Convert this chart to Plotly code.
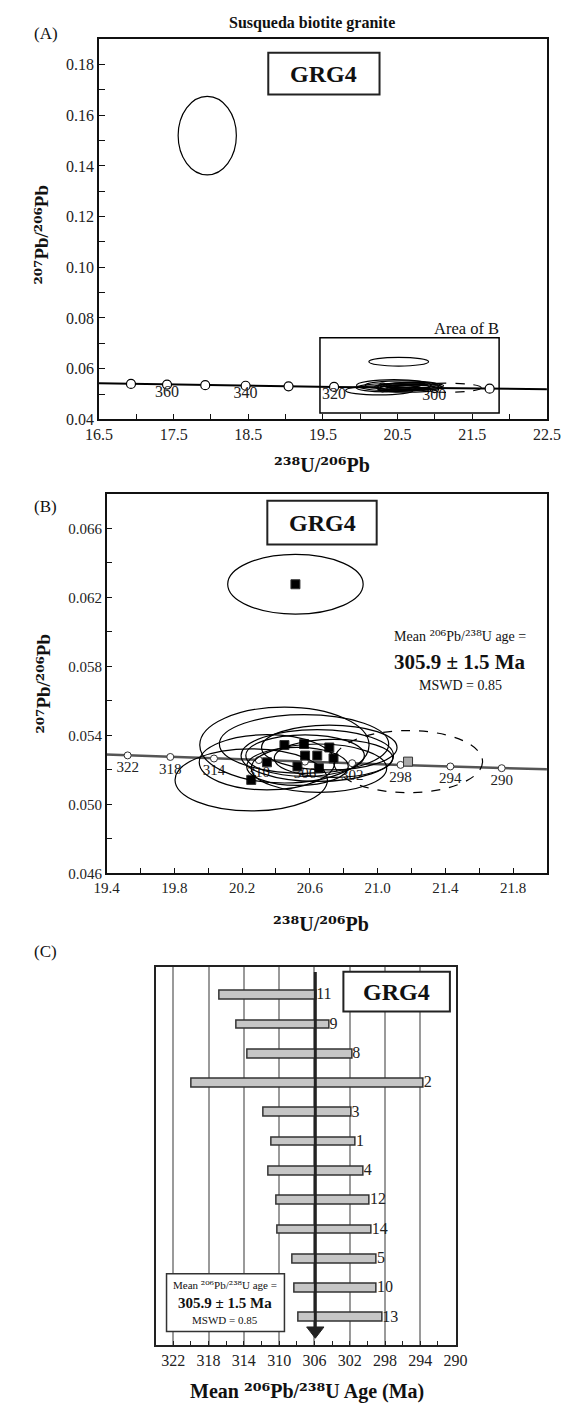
import plotly.graph_objects as go

W, H = 570, 1403
FONT = "Liberation Serif, Times New Roman, serif"

# ---------------- DATA ----------------
# Concordia reference marks, panel A (every 10 Ma)
conc_a_age = [380, 370, 360, 350, 340, 330, 320, 310, 300, 290, 280]
conc_a_u238 = [16.469, 16.928, 17.411, 17.923, 18.464, 19.039, 19.649, 20.299, 20.992, 21.733, 22.527]
conc_a_pb207 = [0.05421, 0.05397, 0.05374, 0.05350, 0.05326, 0.05303, 0.05280, 0.05257, 0.05233, 0.05210, 0.05188]
conc_a_labelled = [360, 340, 320, 300]

# Concordia reference marks, panel B (every 4 Ma)
conc_b_age = [326, 322, 318, 314, 310, 306, 302, 298, 294, 290, 286]
conc_b_u238 = [19.278, 19.524, 19.776, 20.034, 20.299, 20.571, 20.850, 21.136, 21.430, 21.733, 22.044]
conc_b_pb207 = [0.05293, 0.05284, 0.05275, 0.05266, 0.05257, 0.05248, 0.05239, 0.05229, 0.05220, 0.05210, 0.05202]

# Zircon spots: centres and ellipse half-axes
spot_u238 = [17.95, 20.515, 21.18, 20.45, 20.566, 20.715, 20.572, 20.644, 20.74, 20.347, 20.527, 20.654, 20.254]
spot_pb207 = [0.152, 0.06276, 0.05248, 0.05344, 0.0535, 0.0533, 0.05283, 0.05283, 0.05267, 0.05244, 0.0522, 0.0521, 0.05142]
spot_err_u = [0.39, 0.40, 0.44, 0.50, 0.50, 0.40, 0.35, 0.45, 0.35, 0.40, 0.30, 0.40, 0.45]
spot_err_pb = [0.0155, 0.00173, 0.0018, 0.0022, 0.0017, 0.0013, 0.0012, 0.0015, 0.0011, 0.0016, 0.0011, 0.0014, 0.0018]
spot_status = ["common", "used", "excluded", "used", "used", "used", "used", "used", "used", "used", "used", "used", "used"]

# Panel C: 206Pb/238U ages (error bar ends, Ma)
c_spot = ["11", "9", "8", "2", "3", "1", "4", "12", "14", "5", "10", "13"]
c_age_max = [316.7, 314.8, 313.6, 319.9, 311.8, 310.9, 311.2, 310.3, 310.2, 308.5, 308.3, 307.8]
c_age_min = [305.8, 304.3, 301.7, 293.6, 301.8, 301.3, 300.4, 299.7, 299.5, 298.9, 298.9, 298.3]
mean_age = 305.9

# ---------------- FIGURE ----------------
fig = go.Figure()

def px(x):
    return x / W

def py(y):
    return 1 - y / H

def sup(n):
    return '<span style="font-family:DejaVu Serif">' + n + '</span>'

PB76 = sup("²⁰⁷") + "Pb/" + sup("²⁰⁶") + "Pb"
U86 = sup("²³⁸") + "U/" + sup("²⁰⁶") + "Pb"
PB68 = sup("²⁰⁶") + "Pb/" + sup("²³⁸") + "U"

# Panel A concordia
fig.add_trace(go.Scatter(x=conc_a_u238, y=conc_a_pb207, mode="lines",
                         line=dict(color="black", width=2), xaxis="x", yaxis="y",
                         hoverinfo="skip", showlegend=False))
fig.add_trace(go.Scatter(x=conc_a_u238[1:-1], y=conc_a_pb207[1:-1], mode="markers",
                         marker=dict(symbol="circle", size=9, color="white",
                                     line=dict(color="black", width=1.2)),
                         xaxis="x", yaxis="y", hoverinfo="skip", showlegend=False))
lab_idx = [conc_a_age.index(a) for a in conc_a_labelled]
fig.add_trace(go.Scatter(x=[conc_a_u238[i] for i in lab_idx],
                         y=[conc_a_pb207[i] for i in lab_idx], mode="text",
                         text=[str(a) for a in conc_a_labelled], textposition="bottom center",
                         textfont=dict(family=FONT, size=16, color="#222"),
                         xaxis="x", yaxis="y", hoverinfo="skip", showlegend=False))

# Panel B concordia
fig.add_trace(go.Scatter(x=conc_b_u238, y=conc_b_pb207, mode="lines",
                         line=dict(color="#555", width=2.5), xaxis="x2", yaxis="y2",
                         hoverinfo="skip", showlegend=False))
fig.add_trace(go.Scatter(x=conc_b_u238[1:-1], y=conc_b_pb207[1:-1], mode="markers+text",
                         text=[str(a) for a in conc_b_age[1:-1]], textposition="bottom center",
                         textfont=dict(family=FONT, size=15, color="#222"),
                         marker=dict(symbol="circle", size=7, color="white",
                                     line=dict(color="#333", width=1)),
                         xaxis="x2", yaxis="y2", hoverinfo="skip", showlegend=False))

# Panel B spot centres
bx = [u for u, s in zip(spot_u238, spot_status) if s != "common"]
by = [p for p, s in zip(spot_pb207, spot_status) if s != "common"]
bc = ["#aaaaaa" if s == "excluded" else "black" for s in spot_status if s != "common"]
fig.add_trace(go.Scatter(x=bx, y=by, mode="markers",
                         marker=dict(symbol="square", size=9, color=bc,
                                     line=dict(color="#333", width=1)),
                         xaxis="x2", yaxis="y2", hoverinfo="skip", showlegend=False))

# Panel C bars
c_pos = list(range(len(c_spot)))
fig.add_trace(go.Bar(orientation="h", y=c_pos,
                     x=[a - b for a, b in zip(c_age_max, c_age_min)], base=c_age_min,
                     width=0.3, marker=dict(color="#c6c6c6", line=dict(color="#333", width=1.5)),
                     xaxis="x3", yaxis="y3", hoverinfo="skip", showlegend=False))
fig.add_trace(go.Scatter(x=c_age_min, y=c_pos, mode="text", text=c_spot,
                         textposition="middle right",
                         textfont=dict(family=FONT, size=16, color="#222"),
                         xaxis="x3", yaxis="y3", hoverinfo="skip", showlegend=False))
# mean age line with arrow head
fig.add_trace(go.Scatter(x=[mean_age, mean_age], y=[-0.8, 11.4], mode="lines",
                         line=dict(color="#222", width=3),
                         xaxis="x3", yaxis="y3", hoverinfo="skip", showlegend=False))
fig.add_trace(go.Scatter(x=[mean_age], y=[11.45], mode="markers",
                         marker=dict(symbol="triangle-down", size=15, color="#222",
                                     line=dict(color="#222", width=1)),
                         xaxis="x3", yaxis="y3", hoverinfo="skip", showlegend=False,
                         cliponaxis=False))

shapes = []
# ellipses
for u, p, eu, ep, s in zip(spot_u238, spot_pb207, spot_err_u, spot_err_pb, spot_status):
    dash = "dash" if s == "excluded" else "solid"
    for xr, yr in (("x", "y"), ("x2", "y2")):
        shapes.append(dict(type="circle", xref=xr, yref=yr,
                           x0=u - eu, x1=u + eu, y0=p - ep, y1=p + ep,
                           line=dict(color="black", width=1.2, dash=dash)))

# Area of B rectangle
shapes.append(dict(type="rect", xref="x", yref="y", x0=19.46, x1=21.86, y0=0.0425, y1=0.0722,
                   line=dict(color="black", width=1.5)))

# GRG4 boxes
for (x0, x1, y0, y1) in [(259, 376, 45, 87), (258, 373, 496, 540), (338, 450, 970, 1010)]:
    shapes.append(dict(type="rect", xref="paper", yref="paper",
                       x0=px(x0), x1=px(x1), y0=py(y1), y1=py(y0),
                       fillcolor="white", line=dict(color="#222", width=2)))
# Mean box in C
shapes.append(dict(type="rect", xref="paper", yref="paper",
                   x0=px(152), x1=px(276), y0=py(1332), y1=py(1274),
                   fillcolor="white", line=dict(color="#333", width=1.5)))

ann = []

def text(x, y, t, size, bold=False, angle=0, xanchor="center", color="#111"):
    if bold:
        t = "<b>" + t + "</b>"
    ann.append(dict(x=px(x), y=py(y), xref="paper", yref="paper", text=t, showarrow=False,
                    xanchor=xanchor, yanchor="middle", textangle=angle,
                    font=dict(family=FONT, size=size, color=color)))

text(305, 15, "Susqueda biotite granite", 16, bold=True)
text(25, 26, "(A)", 17)
text(25, 502, "(B)", 17)
text(25, 950, "(C)", 17)
for cx, cy in [(317.5, 66), (315.5, 518), (394, 990)]:
    text(cx, cy, "GRG4", 24, bold=True)
text(20, 228, PB76, 19, bold=True, angle=-90)
text(22, 680, PB76, 19, bold=True, angle=-90)
text(316, 460, U86, 20, bold=True)
text(314, 922, U86, 20, bold=True)
text(300, 1392, "Mean " + PB68 + " Age (Ma)", 20, bold=True)
text(504, 323, "Area of B", 16.5, xanchor="right")
text(461, 632, "Mean " + PB68 + " age =", 14)
text(461, 658, "305.9 ± 1.5 Ma", 21, bold=True)
text(461, 682, "MSWD = 0.85", 14)
text(214, 1286, "Mean " + PB68 + " age =", 11)
text(214, 1303, "305.9 ± 1.5 Ma", 15, bold=True)
text(214, 1320, "MSWD = 0.85", 11)

tickfont = dict(family=FONT, size=16, color="#222")
common = dict(showline=True, linecolor="#111", linewidth=1.5, mirror=True, showgrid=False,
              zeroline=False, ticks="inside", ticklen=6, tickwidth=1.2, tickcolor="#111",
              tickfont=tickfont)

fig.update_layout(
    width=W, height=H, margin=dict(l=0, r=0, t=0, b=0),
    paper_bgcolor="white", plot_bgcolor="white", bargap=0,
    font=dict(family=FONT),
    xaxis=dict(domain=[px(81), px(552)], range=[16.5, 22.5], tick0=16.5, dtick=1,
               tickformat=".1f", anchor="y",
               minor=dict(ticks="inside", tick0=16.5, dtick=0.5, ticklen=6, tickcolor="#111"),
               **common),
    yaxis=dict(domain=[py(414), py(31.5)], range=[0.04, 0.19], tick0=0.04, dtick=0.02,
               tickformat=".2f", anchor="x",
               minor=dict(ticks="inside", tick0=0.04, dtick=0.01, ticklen=6, tickcolor="#111"),
               **common),
    xaxis2=dict(domain=[px(89), px(552)], range=[19.4, 22.0], tick0=19.4, dtick=0.4,
                tickformat=".1f", anchor="y2",
                minor=dict(ticks="inside", tick0=19.4, dtick=0.2, ticklen=6, tickcolor="#111"),
                **{**common, "tickfont": dict(family=FONT, size=15, color="#222")}),
    yaxis2=dict(domain=[py(871), py(489)], range=[0.046, 0.068], tick0=0.046, dtick=0.004,
                tickformat=".3f", anchor="x2",
                minor=dict(ticks="inside", tick0=0.046, dtick=0.002, ticklen=6, tickcolor="#111"),
                **{**common, "tickfont": dict(family=FONT, size=15, color="#222")}),
    xaxis3=dict(domain=[px(140.5), px(456)], range=[324, 290], tick0=322, dtick=4,
                anchor="y3", showline=True, linecolor="#222", linewidth=1.5, mirror=True,
                showgrid=True, gridcolor="#9a9a9a", gridwidth=1.5, zeroline=False,
                ticks="inside", ticklen=5, tickcolor="#222", tickfont=tickfont,
                minor=dict(ticks="inside", tick0=322, dtick=2, ticklen=5, tickcolor="#222",
                           showgrid=False)),
    yaxis3=dict(domain=[py(1346), py(965)], range=[11.95, -0.98], anchor="x3",
                showline=True, linecolor="#222", linewidth=1.5, mirror=True,
                showgrid=False, zeroline=False, showticklabels=False, ticks=""),
    shapes=shapes,
    annotations=ann,
)

fig.write_html("out.html", config={"displayModeBar": False})
